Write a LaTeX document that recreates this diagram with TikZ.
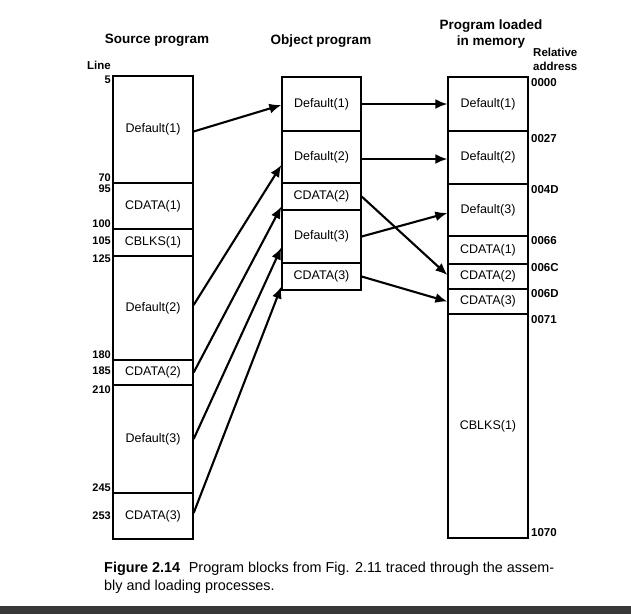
\documentclass[tikz,border=0pt]{standalone}
\usepackage{fontspec}
\setmainfont{Liberation Sans}
\usetikzlibrary{arrows.meta,calc}
\begin{document}
\begin{tikzpicture}[x=1pt,y=-1pt,
 blk/.style={draw, line width=1.3pt, inner sep=0pt, font=\fontsize{12.5}{14}\selectfont},
 arr/.style={line width=2.1pt, -{Latex[length=12pt,width=10pt]}},
 hdr/.style={font=\bfseries\fontsize{13.5}{16}\selectfont, align=center, inner sep=0pt},
 num/.style={font=\bfseries\fontsize{11}{12}\selectfont, inner sep=0pt, anchor=east},
 adr/.style={font=\bfseries\fontsize{11.5}{12}\selectfont, inner sep=0pt, anchor=west},
]
\useasboundingbox (0,0) rectangle (631,614);

% Headers
\node[hdr] (hs) at (157,40) {Source program};
\node[hdr] (ho) at (321,41) {Object program};
\node[hdr] (hm) at (491,34) {Program loaded\\in memory};
\node[font=\bfseries\fontsize{11.5}{14}\selectfont, align=left, inner sep=0pt, anchor=west] (hr) at (533,59) {Relative\\address};
\node[num, font=\bfseries\fontsize{11.5}{13}\selectfont] (hl) at (111,65) {Line};

% Source program blocks (x 113-193)
\begin{scope}[every node/.append style={blk, minimum width=80pt}]
\node[minimum height=107pt] (s1) at (153,129.5) {Default(1)};
\node[minimum height=46pt]  (s2) at (153,206)   {CDATA(1)};
\node[minimum height=27pt]  (s3) at (153,242.5) {CBLKS(1)};
\node[minimum height=104pt] (s4) at (153,308)   {Default(2)};
\node[minimum height=25pt]  (s5) at (153,372.5) {CDATA(2)};
\node[minimum height=108pt] (s6) at (153,439)   {Default(3)};
\node[minimum height=46pt]  (s7) at (153,516)   {CDATA(3)};
\end{scope}

% Object program blocks (x 282-361)
\begin{scope}[every node/.append style={blk, minimum width=79pt}]
\node[minimum height=54pt] (o1) at (321.5,104)   {Default(1)};
\node[minimum height=52pt] (o2) at (321.5,157)   {Default(2)};
\node[minimum height=27pt] (o3) at (321.5,196.5) {CDATA(2)};
\node[minimum height=53pt] (o4) at (321.5,236.5) {Default(3)};
\node[minimum height=27pt] (o5) at (321.5,276.5) {CDATA(3)};
\end{scope}

% Memory blocks (x 448-528)
\begin{scope}[every node/.append style={blk, minimum width=80pt}]
\node[minimum height=54pt]  (m1) at (488,104)   {Default(1)};
\node[minimum height=53pt]  (m2) at (488,157.5) {Default(2)};
\node[minimum height=52pt]  (m3) at (488,210)   {Default(3)};
\node[minimum height=28pt]  (m4) at (488,250)   {CDATA(1)};
\node[minimum height=25pt]  (m5) at (488,276.5) {CDATA(2)};
\node[minimum height=25pt]  (m6) at (488,301.5) {CDATA(3)};
\node[minimum height=224pt] (m7) at (488,426)   {CBLKS(1)};
\end{scope}

% Line numbers
\node[num] (l5)   at (111,80)  {5};
\node[num] (l70)  at (111,178) {70};
\node[num] (l95)  at (111,189) {95};
\node[num] (l100) at (111,224) {100};
\node[num] (l105) at (111,241) {105};
\node[num] (l125) at (111,259) {125};
\node[num] (l180) at (111,355) {180};
\node[num] (l185) at (111,371) {185};
\node[num] (l210) at (111,390) {210};
\node[num] (l245) at (111,488) {245};
\node[num] (l253) at (111,516) {253};

% Relative addresses
\node[adr] (a0) at (531,83)  {0000};
\node[adr] (a1) at (531,139) {0027};
\node[adr] (a2) at (531,190) {004D};
\node[adr] (a3) at (531,241) {0066};
\node[adr] (a4) at (531,268) {006C};
\node[adr] (a5) at (531,294) {006D};
\node[adr] (a6) at (531,320) {0071};
\node[adr] (a7) at (531,533) {1070};

% Source -> object
\draw[arr] ([yshift=-2pt]s1.east) -- ([yshift=-1pt]o1.west);
\draw[arr] ([yshift=3pt]s4.east) -- ([yshift=-8pt]o2.west);
\draw[arr] (s5.east) -- ([yshift=-10pt]o3.west);
\draw[arr] (s6.east) -- ([yshift=-11pt]o4.west);
\draw[arr] ([yshift=3pt]s7.east) -- ([yshift=-10pt]o5.west);

% Object -> memory
\draw[arr] (o1.east) -- (m1.west);
\draw[arr] ([yshift=-2pt]o2.east) -- ([yshift=-1.5pt]m2.west);
\draw[arr] (o3.east) -- ([yshift=1.5pt]m5.west);
\draw[arr] (o4.east) -- ([yshift=-3pt]m3.west);
\draw[arr] (o5.east) -- (m6.west);

% Caption
\node[anchor=base west, align=left, inner sep=0pt, font=\fontsize{14.4}{18}\selectfont] (cap) at (104,590)
 {\textbf{Figure 2.14}\hspace{0.6em}Program blocks from Fig. 2.11 traced through the assem-\\bly and loading processes.};

% Bottom bar
\fill[black!78] (0,606) rectangle (631,614);
\end{tikzpicture}
\end{document}
